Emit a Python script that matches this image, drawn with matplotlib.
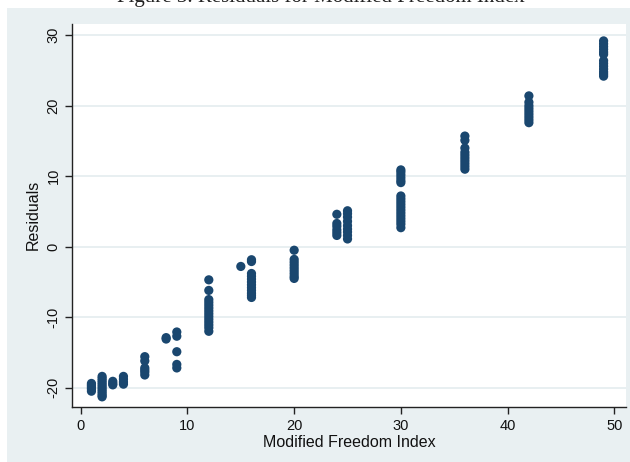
import matplotlib
matplotlib.use("Agg")
import matplotlib.pyplot as plt
from matplotlib.patches import Rectangle

# ===============================
# DATA
# ===============================
freedom_index = [1, 2, 3, 4, 6, 8, 9, 12, 15, 16, 20, 24, 25, 30, 36, 42, 49]

residual_groups = [
    [-19.4, -19.6, -19.8, -20.0, -20.2, -20.5],
    [-18.4, -18.7, -19.0, -19.3, -19.6, -19.9, -20.2, -20.5, -20.8, -21.1, -21.3],
    [-19.1, -19.4, -19.6],
    [-18.4, -18.8, -19.2, -19.5],
    [-15.6, -16.2, -17.2, -17.5, -17.8, -18.2],
    [-12.9, -13.1],
    [-12.1, -12.7, -14.9, -16.7, -17.2],
    [-4.7, -6.2, -7.5, -7.9, -8.3, -8.7, -9.1, -9.5, -9.9, -10.3, -10.7, -11.1,
     -11.5, -12.0],
    [-2.8],
    [-1.85, -2.1, -3.8, -4.2, -4.6, -5.0, -5.4, -5.8, -6.2, -6.6, -6.9, -7.2],
    [-0.5, -1.8, -2.2, -2.6, -3.0, -3.4, -3.8, -4.2, -4.5],
    [4.6, 3.3, 2.9, 2.4, 2.0, 1.6],
    [5.1, 4.7, 4.2, 3.6, 3.0, 2.5, 2.1, 1.6, 1.1],
    [10.9, 10.6, 10.2, 9.8, 9.4, 9.1, 7.2, 6.8, 6.4, 6.0, 5.6, 5.2, 4.8, 4.4,
     4.0, 3.6, 3.2, 2.7],
    [15.7, 15.1, 14.0, 13.4, 13.0, 12.6, 12.2, 11.8, 11.4, 11.0],
    [21.4, 20.5, 20.0, 19.6, 19.2, 18.8, 18.4, 18.0, 17.6],
    [29.2, 28.8, 28.4, 28.0, 27.6, 27.3, 26.4, 26.0, 25.6, 25.2, 24.8, 24.5, 24.2],
]

x_ticks = [0, 10, 20, 30, 40, 50]
y_ticks = [-20, -10, 0, 10, 20, 30]

title_text = "Figure 3. Residuals for Modified Freedom Index"

# ===============================
# STYLE
# ===============================
NAVY = "#1a476f"
REGION = "#e9f0f2"
GRID = "#e4ecef"

plt.rcParams['font.family'] = ['Liberation Sans', 'DejaVu Sans']

xs, ys = [], []
for xv, group in zip(freedom_index, residual_groups):
    for r in group:
        xs.append(xv)
        ys.append(r)

fig = plt.figure(figsize=(6.30, 4.62), dpi=100)
fig.patch.set_facecolor("white")

# graph region (light bluish band, white strip left/top)
fig.patches.append(Rectangle((7 / 630, 0), 1, 1 - 8 / 462,
                             transform=fig.transFigure, facecolor=REGION,
                             edgecolor="none", zorder=-5))

# caption sits mostly above the top edge, as in the source page
fig.text(0.51, 1 - 2 / 462, title_text, ha='center', va='baseline',
         fontsize=15, family='Liberation Serif', color='#222222')

ax = fig.add_axes([71.7 / 630, 1 - 406.7 / 462,
                   (626 - 71.7) / 630, (406.7 - 24) / 462])
ax.set_zorder(2)
ax.set_facecolor("white")

ax.scatter(xs, ys, s=44, color=NAVY, edgecolors='none', zorder=3)

ax.set_xlim(-0.85, 51.1)
ax.set_ylim(-22.7, 31.6)
ax.set_xticks(x_ticks)
ax.set_yticks(y_ticks)
ax.set_yticklabels([str(t) for t in y_ticks], rotation=90, va='center')

ax.grid(axis='y', color=GRID, linewidth=1.2)
ax.set_axisbelow(True)

for side in ['top', 'right']:
    ax.spines[side].set_visible(False)
for side in ['left', 'bottom']:
    ax.spines[side].set_color('#222222')
    ax.spines[side].set_linewidth(1.0)

ax.tick_params(axis='both', direction='out', length=5, width=1,
               color='#222222', labelsize=10.5, labelcolor='#111111')
ax.tick_params(axis='y', pad=3)

ax.set_xlabel("Modified Freedom Index", fontsize=11.5, labelpad=2,
              color='#111111')
ax.set_ylabel("Residuals", fontsize=11.5, labelpad=4, color='#111111')

fig.savefig("out.png", dpi=100, facecolor=fig.get_facecolor())
